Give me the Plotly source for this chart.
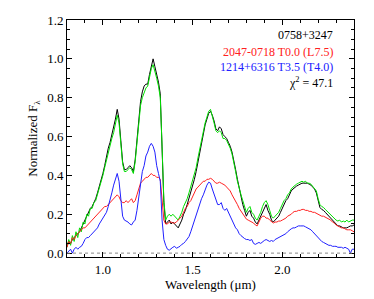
import numpy as np
import plotly.graph_objects as go

# wavelength grid (microns), 0.80 .. 2.40 step 0.01
wavelength = np.round(np.arange(0.80, 2.4001, 0.01), 2)

flux_0758 = [0.04,0.06,0.05,0.07,0.08,0.09,0.10,0.11,0.13,0.15,
 0.17,0.19,0.21,0.23,0.24,0.26,0.28,0.31,0.34,0.38,
 0.41,0.45,0.50,0.54,0.57,0.61,0.64,0.69,0.74,0.69,
 0.58,0.47,0.43,0.43,0.44,0.45,0.44,0.42,0.48,0.58,
 0.68,0.78,0.83,0.86,0.87,0.87,0.92,0.97,1.00,0.96,
 0.92,0.88,0.82,0.55,0.26,0.15,0.16,0.17,0.15,0.16,
 0.15,0.14,0.13,0.15,0.17,0.20,0.22,0.25,0.28,0.31,
 0.35,0.38,0.42,0.47,0.53,0.58,0.62,0.66,0.69,0.72,
 0.73,0.71,0.68,0.64,0.63,0.65,0.64,0.61,0.60,0.59,
 0.57,0.55,0.52,0.48,0.43,0.38,0.33,0.29,0.25,0.22,
 0.19,0.21,0.22,0.19,0.18,0.16,0.15,0.17,0.19,0.21,
 0.23,0.25,0.22,0.20,0.17,0.16,0.17,0.18,0.19,0.21,
 0.23,0.25,0.27,0.28,0.30,0.32,0.33,0.34,0.345,0.35,
 0.355,0.36,0.36,0.36,0.36,0.355,0.35,0.34,0.33,0.31,
 0.27,0.235,0.225,0.22,0.21,0.20,0.19,0.18,0.165,0.16,
 0.15,0.14,0.14,0.135,0.13,0.13,0.13,0.135,0.14,0.14,0.145]

flux_model = [0.03,0.07,0.04,0.09,0.06,0.11,0.08,0.13,0.11,0.16,
 0.15,0.20,0.19,0.23,0.23,0.26,0.27,0.30,0.33,0.37,
 0.40,0.44,0.48,0.52,0.56,0.59,0.62,0.67,0.71,0.67,
 0.57,0.46,0.42,0.42,0.43,0.44,0.43,0.41,0.47,0.57,
 0.67,0.76,0.80,0.83,0.85,0.86,0.90,0.95,0.97,0.94,
 0.90,0.86,0.80,0.55,0.27,0.17,0.19,0.20,0.19,0.20,
 0.19,0.18,0.17,0.19,0.21,0.24,0.26,0.28,0.31,0.34,
 0.37,0.40,0.44,0.49,0.54,0.59,0.63,0.67,0.70,0.73,
 0.74,0.71,0.67,0.63,0.62,0.63,0.62,0.59,0.59,0.58,
 0.56,0.54,0.51,0.47,0.42,0.37,0.33,0.30,0.27,0.24,
 0.21,0.23,0.24,0.21,0.20,0.18,0.17,0.19,0.21,0.24,
 0.26,0.27,0.25,0.22,0.19,0.18,0.19,0.20,0.21,0.23,
 0.25,0.27,0.28,0.30,0.31,0.33,0.34,0.35,0.355,0.36,
 0.365,0.37,0.365,0.37,0.36,0.36,0.355,0.345,0.335,0.32,
 0.28,0.25,0.24,0.235,0.225,0.215,0.205,0.195,0.185,0.18,
 0.17,0.165,0.17,0.16,0.165,0.16,0.17,0.16,0.165,0.17,0.17]

flux_2047 = [0.03,0.06,0.05,0.08,0.07,0.09,0.10,0.11,0.12,0.13,
 0.13,0.14,0.15,0.16,0.17,0.18,0.19,0.20,0.21,0.22,
 0.23,0.24,0.24,0.25,0.26,0.27,0.28,0.29,0.30,0.29,
 0.27,0.26,0.26,0.27,0.26,0.27,0.28,0.26,0.27,0.30,
 0.33,0.36,0.37,0.38,0.39,0.39,0.40,0.41,0.40,0.40,
 0.39,0.39,0.38,0.29,0.17,0.15,0.15,0.16,0.16,0.155,
 0.155,0.16,0.17,0.18,0.19,0.21,0.23,0.24,0.26,0.27,
 0.29,0.31,0.33,0.34,0.35,0.36,0.37,0.37,0.38,0.38,
 0.385,0.38,0.37,0.36,0.36,0.365,0.36,0.355,0.35,0.34,
 0.33,0.32,0.30,0.285,0.27,0.25,0.23,0.215,0.20,0.19,
 0.175,0.17,0.165,0.16,0.155,0.145,0.14,0.16,0.18,0.19,
 0.19,0.18,0.18,0.17,0.16,0.155,0.16,0.16,0.165,0.165,
 0.17,0.175,0.18,0.19,0.195,0.20,0.21,0.215,0.215,0.22,
 0.22,0.225,0.225,0.22,0.22,0.215,0.215,0.21,0.21,0.205,
 0.20,0.195,0.19,0.19,0.185,0.18,0.175,0.17,0.16,0.155,
 0.145,0.14,0.135,0.13,0.13,0.125,0.12,0.12,0.12,0.115,0.11]

flux_1214 = [0.00,0.01,0.02,0.00,0.02,0.03,0.02,0.03,0.035,0.05,
 0.07,0.08,0.08,0.09,0.10,0.11,0.12,0.13,0.15,0.165,
 0.18,0.19,0.21,0.24,0.27,0.31,0.35,0.38,0.41,0.37,
 0.26,0.19,0.17,0.165,0.16,0.15,0.145,0.16,0.17,0.22,
 0.29,0.36,0.42,0.45,0.50,0.52,0.55,0.565,0.55,0.52,
 0.45,0.41,0.37,0.17,0.07,0.04,0.02,0.015,0.025,0.03,
 0.035,0.025,0.03,0.035,0.045,0.05,0.06,0.07,0.085,0.11,
 0.14,0.17,0.19,0.22,0.25,0.28,0.30,0.33,0.35,0.365,
 0.36,0.33,0.30,0.27,0.25,0.25,0.26,0.23,0.22,0.23,
 0.21,0.19,0.17,0.15,0.13,0.12,0.10,0.09,0.08,0.075,
 0.07,0.07,0.065,0.07,0.05,0.045,0.05,0.055,0.05,0.06,
 0.065,0.07,0.065,0.06,0.065,0.06,0.07,0.075,0.08,0.085,
 0.09,0.095,0.10,0.11,0.12,0.125,0.13,0.13,0.135,0.14,
 0.14,0.14,0.14,0.135,0.13,0.125,0.12,0.11,0.10,0.09,
 0.075,0.065,0.06,0.055,0.05,0.045,0.04,0.04,0.035,0.035,
 0.035,0.03,0.03,0.03,0.025,0.03,0.025,0.02,0.0,0.02,0.02]

labels = ["0758+3247", "2047-0718 T0.0 (L7.5)", "1214+6316 T3.5 (T4.0)", "χ<sup>2</sup> = 47.1"]
label_colors = ["black", "#ff2020", "#2020ff", "black"]

FONT = "Liberation Serif"

fig = go.Figure()
fig.add_trace(go.Scatter(x=wavelength, y=flux_0758, mode="lines",
                         line=dict(color="black", width=1), showlegend=False))
fig.add_trace(go.Scatter(x=wavelength, y=flux_model, mode="lines",
                         line=dict(color="#00e000", width=1), showlegend=False))
fig.add_trace(go.Scatter(x=wavelength, y=flux_2047, mode="lines",
                         line=dict(color="#ff2020", width=1), showlegend=False))
fig.add_trace(go.Scatter(x=wavelength, y=flux_1214, mode="lines",
                         line=dict(color="#2020ff", width=1), showlegend=False))

fig.add_hline(y=0, line=dict(color="#888888", width=1, dash="dot"))

ypos = [0.937, 0.867, 0.800, 0.737]
for t, c, yp in zip(labels, label_colors, ypos):
    fig.add_annotation(x=0.934, y=yp, xref="paper", yref="paper", text=t,
                       showarrow=False, xanchor="right", yanchor="middle",
                       font=dict(family=FONT, size=12, color=c))

axis_common = dict(showline=True, linecolor="black", linewidth=1, mirror="ticks",
                   ticks="inside", ticklen=5, tickcolor="black", showgrid=False,
                   zeroline=False, automargin=False,
                   tickfont=dict(family=FONT, size=13, color="black"))

fig.update_xaxes(range=[0.8, 2.4], tick0=1.0, dtick=0.5, tickformat=".1f",
                 minor=dict(dtick=0.1, ticks="inside", ticklen=3, tickcolor="black"),
                 title=dict(text="Wavelength (μm)", font=dict(family=FONT, size=13, color="black"), standoff=4),
                 **axis_common)
fig.update_yaxes(range=[-0.02, 1.2], tick0=0, dtick=0.2, tickformat=".1f",
                 minor=dict(dtick=0.05, ticks="inside", ticklen=3, tickcolor="black"),
                 title=dict(text="Normalized F<sub>λ</sub>", font=dict(family=FONT, size=13, color="black"), standoff=6),
                 **axis_common)

fig.update_layout(width=374, height=299, margin=dict(l=59, r=28, t=12, b=50),
                  plot_bgcolor="white", paper_bgcolor="white",
                  font=dict(family=FONT, color="black"))

fig.write_html("out.html")
